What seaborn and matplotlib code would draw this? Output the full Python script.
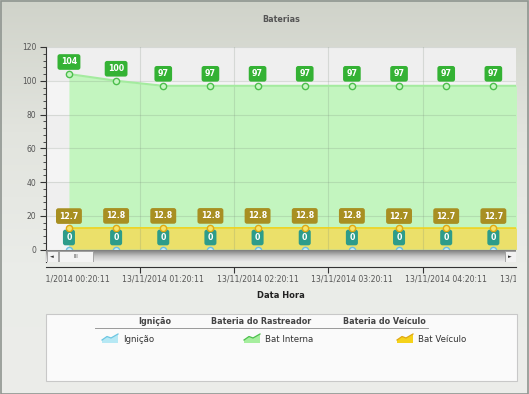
import numpy as np
import pandas as pd
import seaborn as sns
import matplotlib.pyplot as plt
from matplotlib.patches import Rectangle, Polygon
from matplotlib.lines import Line2D
from matplotlib.colors import LinearSegmentedColormap
from matplotlib.ticker import FixedLocator, MultipleLocator
from matplotlib.transforms import Bbox, TransformedBbox, blended_transform_factory

# dados
dia = "2014-11-13"
horarios = ["00:20:11", "00:50:11", "01:20:11", "01:50:11", "02:20:11", "02:50:11",
            "03:20:11", "03:50:11", "04:20:11", "04:50:11", "05:20:11"]
bat_interna = [104, 100, 97, 97, 97, 97, 97, 97, 97, 97, 97]
bat_veiculo = [12.7, 12.8, 12.8, 12.8, 12.8, 12.8, 12.8, 12.7, 12.7, 12.7, 12.7]
ignicao = [0, 0, 0, 0, 0, 0, 0, 0, 0, 0, 0]
rotulos_x = ["13/11/2014 00:20:11", "13/11/2014 01:20:11", "13/11/2014 02:20:11",
             "13/11/2014 03:20:11", "13/11/2014 04:20:11", "13/11/2014 05:20:11"]

W, H = 529, 394
def fx(x):
    return x / W
def fy(y):
    return 1 - y / H

t = pd.to_datetime([dia + " " + h for h in horarios])
minutos = (t - t[0]).total_seconds() / 60
df = pd.DataFrame({"minutos": minutos, "Bat Interna": bat_interna,
                   "Bat Veiculo": bat_veiculo, "Ignicao": ignicao})

fig = plt.figure(figsize=(W / 100, H / 100), dpi=100)

# fundo com degrade (mais escuro em cima)
bg = fig.add_axes([0, 0, 1, 1], zorder=-10)
grad = np.linspace(0, 1, 200).reshape(-1, 1)
bg.imshow(grad, aspect="auto", extent=[0, 1, 0, 1], origin="upper",
          cmap=LinearSegmentedColormap.from_list("bg", ["#d0d3ca", "#e2e4de", "#eaece8", "#ecedea"]))
bg.set_xlim(0, 1)
bg.set_ylim(0, 1)
bg.add_patch(Rectangle((0.001, 0.001), 0.997, 0.997, fill=False, ec="#8f9590", lw=1.2))
bg.axis("off")

ax = fig.add_axes([fx(46), fy(249.5), (516 - 46) / W, (249.5 - 47) / H])
ax.set_facecolor("#efefef")
for lo in (0, 40, 80):
    ax.axhspan(lo, lo + 20, color="#f4f4f4", lw=0, zorder=0)

ax.fill_between(df["minutos"], 0, df["Bat Interna"], color="#c3f5bf", lw=0, zorder=1)
ax.fill_between(df["minutos"], 0, df["Bat Veiculo"], color="#ebe06a", lw=0, zorder=1.5)

sns.lineplot(data=df, x="minutos", y="Bat Interna", ax=ax, color="#a4eb9f", lw=1.5,
             marker="o", markersize=4.5, markeredgecolor="#4cbf4c",
             markerfacecolor="#c8f5c4", markeredgewidth=1, zorder=4)
sns.lineplot(data=df, x="minutos", y="Ignicao", ax=ax, color="#7fd0e8", lw=1,
             marker="o", markersize=4.5, markeredgecolor="#6cbfe0",
             markerfacecolor="#c8ecf6", markeredgewidth=1, zorder=4)
sns.lineplot(data=df, x="minutos", y="Bat Veiculo", ax=ax, color="#f0d21c", lw=1.2,
             marker="o", markersize=4.5, markeredgecolor="#e0a812",
             markerfacecolor="#f6e46a", markeredgewidth=1, zorder=6)

def rotular(col, cor, z):
    for x, v in zip(df["minutos"], df[col]):
        ax.annotate(f"{v:g}", (x, v), xytext=(0, 12), textcoords="offset pixels",
                    ha="center", va="center", fontsize=5.7, fontweight="bold", color="white",
                    bbox=dict(boxstyle="round,pad=0.42,rounding_size=0.3", fc=cor, ec="none"),
                    zorder=z, annotation_clip=True)

rotular("Bat Interna", "#34b234", 7)
rotular("Bat Veiculo", "#a88f22", 7)
rotular("Ignicao", "#2d9c8a", 5)

ax.set_xlim(-14.6, 284.4)
ax.set_ylim(0, 120)
ax.set_axisbelow(False)
ax.xaxis.set_major_locator(FixedLocator([45, 105, 165, 225]))
ax.yaxis.set_major_locator(MultipleLocator(20))
ax.yaxis.set_minor_locator(MultipleLocator(4))
ax.grid(True, color="#7a8a7a", alpha=0.22, lw=0.8)
ax.set_xlabel("")
ax.set_ylabel("")
for s in ("top", "right"):
    ax.spines[s].set_visible(False)
ax.spines["left"].set_color("#333333")
ax.spines["bottom"].set_color("#333333")
ax.spines["bottom"].set_position(("outward", 12.5))
ax.tick_params(axis="x", length=4, width=0.8, color="#333333", labelbottom=False)
ax.tick_params(axis="y", which="major", length=4, width=0.8, color="#333333",
               labelsize=5.5, labelcolor="#555555", pad=3)
ax.tick_params(axis="y", which="minor", length=2, width=0.6, color="#333333")
fig.add_artist(Line2D([fx(46), fx(46)], [fy(249.5), fy(262)], color="#333333", lw=0.8))

# rotulos do eixo x (cortados nas bordas como no original)
clip = TransformedBbox(Bbox([[fx(46), 0], [fx(516), 1]]), fig.transFigure)
tr = blended_transform_factory(ax.transData, fig.transFigure)
for r in rotulos_x:
    hm = pd.to_datetime(dia + " " + r.split(" ")[1])
    pos = (hm - t[0]).total_seconds() / 60
    txt = ax.text(pos, fy(279), r, transform=tr, ha="center", va="center",
                  fontsize=5.6, color="#555555", clip_on=True)
    txt.set_clip_box(clip)

# barra de rolagem
sb = fig.add_axes([fx(46), fy(262), 470 / W, 12 / H], zorder=3)
sb.imshow(np.linspace(0, 1, 50).reshape(-1, 1), aspect="auto", extent=[0, 470, 12, 0],
          cmap=LinearSegmentedColormap.from_list("sb", ["#7d7d7d", "#c4c4c4", "#ececec"]))
sb.set_xlim(0, 470)
sb.set_ylim(12, 0)
sb.add_patch(Rectangle((0.5, 0.5), 11, 11, fc="#f2f2f2", ec="#9a9a9a", lw=0.6))
sb.add_patch(Rectangle((13, 0.5), 34, 11, fc="#f4f4f4", ec="#9a9a9a", lw=0.6))
sb.add_patch(Rectangle((458.5, 0.5), 11, 11, fc="#f2f2f2", ec="#9a9a9a", lw=0.6))
sb.text(6, 6.3, "◄", fontsize=3.5, ha="center", va="center", color="#333333")
sb.text(464, 6.3, "►", fontsize=3.5, ha="center", va="center", color="#333333")
sb.text(30, 6.3, "III", fontsize=4, ha="center", va="center", color="#555555")
sb.axis("off")

fig.text(fx(281), fy(20), "Baterias", fontsize=5.8, fontweight="bold", color="#555555",
         ha="center", va="center")
fig.text(fx(281), fy(295), "Data Hora", fontsize=6, fontweight="bold", color="#222222",
         ha="center", va="center")

# legenda
fig.add_artist(Rectangle((fx(46), fy(381)), (517 - 46) / W, (381 - 314) / H,
                         transform=fig.transFigure, fc="#fafafa", ec="#c8c8c8", lw=0.8))
for xc, cab in [(155, "Ignição"), (261, "Bateria do Rastreador"), (384, "Bateria do Veículo")]:
    fig.text(fx(xc), fy(321), cab, fontsize=5.8, fontweight="bold", color="#444444",
             ha="center", va="center")
fig.add_artist(Line2D([fx(95), fx(428)], [fy(328), fy(328)], color="#9a9a9a", lw=0.7))

def icone(x0, fc, lc):
    pts = [(x0, 343), (x0, 340), (x0 + 5, 336.5), (x0 + 9, 338), (x0 + 16, 334), (x0 + 16, 343)]
    fig.add_artist(Polygon([(fx(a), fy(b)) for a, b in pts], closed=True,
                           transform=fig.transFigure, fc=fc, ec="none"))
    fig.add_artist(Line2D([fx(a) for a, b in pts[1:5]], [fy(b) for a, b in pts[1:5]],
                          color=lc, lw=0.9))

for x0, nome, fc, lc in [(102, "Ignição", "#b6e8f4", "#6cc6e2"),
                         (244, "Bat Interna", "#a6ee9e", "#4cc04c"),
                         (397, "Bat Veículo", "#f5d21a", "#e0a812")]:
    icone(x0, fc, lc)
    fig.text(fx(x0 + 21), fy(339), nome, fontsize=6.2, color="#333333", ha="left", va="center")

plt.savefig("out.png", dpi=100)
